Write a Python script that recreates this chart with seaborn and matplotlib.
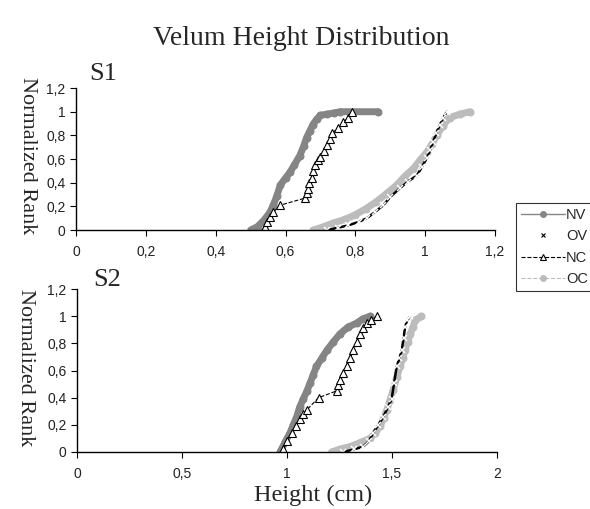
import matplotlib
matplotlib.use("Agg")
import matplotlib.pyplot as plt
import seaborn as sns
from matplotlib.lines import Line2D

# --- data (height in cm, normalized rank) ---
s1_nv_x = [0.50, 0.52, 0.54, 0.555, 0.565, 0.575, 0.585, 0.60, 0.613, 0.625, 0.641,
           0.652, 0.66, 0.67, 0.678, 0.69, 0.70, 0.72, 0.74, 0.756, 0.865]
s1_nv_y = [0.0, 0.03, 0.09, 0.15, 0.21, 0.29, 0.38, 0.44, 0.49, 0.55, 0.63,
           0.71, 0.78, 0.84, 0.89, 0.94, 0.97, 0.98, 0.99, 1.0, 1.0]
s1_nc_x = [0.54, 0.548, 0.556, 0.565, 0.584, 0.656, 0.66, 0.664, 0.668, 0.675, 0.68,
           0.685, 0.692, 0.699, 0.71, 0.72, 0.727, 0.733, 0.75, 0.765, 0.78, 0.79]
s1_nc_y = [0.03, 0.07, 0.11, 0.15, 0.21, 0.27, 0.31, 0.35, 0.40, 0.44, 0.50,
           0.55, 0.59, 0.62, 0.67, 0.72, 0.77, 0.82, 0.86, 0.91, 0.95, 1.0]
s1_ov_x = [0.72, 0.75, 0.78, 0.81, 0.833, 0.855, 0.88, 0.90, 0.928, 0.95, 0.976,
           0.99, 1.005, 1.015, 1.022, 1.032, 1.042, 1.052, 1.062]
s1_ov_y = [0.0, 0.02, 0.04, 0.07, 0.10, 0.15, 0.21, 0.28, 0.355, 0.41, 0.46,
           0.53, 0.61, 0.68, 0.74, 0.82, 0.89, 0.95, 1.0]
s1_oc_x = [0.68, 0.71, 0.737, 0.77, 0.80, 0.83, 0.86, 0.89, 0.918, 0.94, 0.966,
           0.985, 1.005, 1.02, 1.033, 1.05, 1.07, 1.10, 1.128]
s1_oc_y = [0.0, 0.03, 0.06, 0.09, 0.13, 0.18, 0.24, 0.31, 0.38, 0.45, 0.52,
           0.59, 0.66, 0.73, 0.80, 0.88, 0.95, 0.98, 1.0]

s2_nv_x = [0.967, 0.99, 1.014, 1.03, 1.046, 1.06, 1.077, 1.095, 1.11, 1.125, 1.14,
           1.165, 1.19, 1.22, 1.252, 1.29, 1.332, 1.36, 1.395]
s2_nv_y = [0.0, 0.07, 0.14, 0.20, 0.26, 0.33, 0.39, 0.45, 0.51, 0.57, 0.63,
           0.69, 0.75, 0.81, 0.87, 0.92, 0.95, 0.98, 1.0]
s2_nc_x = [0.983, 1.0, 1.022, 1.042, 1.062, 1.078, 1.094, 1.15, 1.236, 1.244, 1.252,
           1.268, 1.284, 1.30, 1.316, 1.332, 1.348, 1.364, 1.38, 1.40, 1.427]
s2_nc_y = [0.02, 0.08, 0.14, 0.19, 0.24, 0.28, 0.31, 0.40, 0.45, 0.49, 0.53,
           0.58, 0.63, 0.69, 0.75, 0.81, 0.87, 0.91, 0.95, 0.97, 1.0]
s2_ov_x = [1.268, 1.32, 1.363, 1.39, 1.41, 1.435, 1.459, 1.48, 1.498, 1.51, 1.522,
           1.535, 1.546, 1.555, 1.562, 1.572, 1.586]
s2_ov_y = [0.0, 0.02, 0.04, 0.08, 0.14, 0.20, 0.26, 0.33, 0.39, 0.51, 0.63,
           0.69, 0.75, 0.84, 0.92, 0.97, 1.0]
s2_oc_x = [1.212, 1.25, 1.30, 1.35, 1.395, 1.42, 1.443, 1.46, 1.475, 1.49, 1.506,
           1.522, 1.538, 1.55, 1.562, 1.574, 1.586, 1.60, 1.61, 1.64]
s2_oc_y = [0.0, 0.02, 0.04, 0.07, 0.10, 0.14, 0.19, 0.25, 0.31, 0.38, 0.46,
           0.55, 0.63, 0.69, 0.75, 0.81, 0.87, 0.92, 0.97, 1.0]

y_ticks = [0, 0.2, 0.4, 0.6, 0.8, 1.0, 1.2]
y_labels = ["0", "0,2", "0,4", "0,6", "0,8", "1", "1,2"]
x1_ticks = [0, 0.2, 0.4, 0.6, 0.8, 1.0, 1.2]
x1_labels = ["0", "0,2", "0,4", "0,6", "0,8", "1", "1,2"]
x2_ticks = [0, 0.5, 1.0, 1.5, 2.0]
x2_labels = ["0", "0,5", "1", "1,5", "2"]

NV_COL = "#858585"
OC_COL = "#bcbcbc"

sns.set_style("white")
plt.rcParams["font.family"] = ["Liberation Sans", "DejaVu Sans"]
SERIF = ["Liberation Serif", "DejaVu Serif"]

fig = plt.figure(figsize=(5.9, 5.09), dpi=100)
ax1 = fig.add_axes([0.129, 0.548, 0.710, 0.279])
ax2 = fig.add_axes([0.1305, 0.112, 0.712, 0.320])


def draw(ax, nv, ov, nc, oc):
    # NV: dense dark gray dots -> thick band + markers
    sns.lineplot(x=nv[0], y=nv[1], ax=ax, sort=False, estimator=None,
                 color=NV_COL, lw=5, solid_capstyle="round", legend=False)
    sns.lineplot(x=nv[0], y=nv[1], ax=ax, sort=False, estimator=None,
                 color=NV_COL, lw=1, marker="o", ms=5, mec=NV_COL, legend=False)
    # OC: dense light gray dots
    sns.lineplot(x=oc[0], y=oc[1], ax=ax, sort=False, estimator=None,
                 color=OC_COL, lw=5, solid_capstyle="round", legend=False)
    sns.lineplot(x=oc[0], y=oc[1], ax=ax, sort=False, estimator=None,
                 color=OC_COL, lw=1, marker="o", ms=5, mec=OC_COL, legend=False)
    # OV: black crosses
    sns.lineplot(x=ov[0], y=ov[1], ax=ax, sort=False, estimator=None,
                 color="black", lw=1.8, marker="x", ms=4, mew=1.1, legend=False)
    # NC: open triangles, dashed
    sns.lineplot(x=nc[0], y=nc[1], ax=ax, sort=False, estimator=None,
                 color="black", lw=0.8, ls="--", marker="^", ms=5.5,
                 mfc="white", mec="black", mew=0.8, legend=False)


draw(ax1, (s1_nv_x, s1_nv_y), (s1_ov_x, s1_ov_y), (s1_nc_x, s1_nc_y), (s1_oc_x, s1_oc_y))
draw(ax2, (s2_nv_x, s2_nv_y), (s2_ov_x, s2_ov_y), (s2_nc_x, s2_nc_y), (s2_oc_x, s2_oc_y))

for ax, xt, xl, xmax in [(ax1, x1_ticks, x1_labels, 1.2), (ax2, x2_ticks, x2_labels, 2.0)]:
    ax.set_xlim(0, xmax)
    ax.set_ylim(0, 1.2)
    ax.set_xticks(xt)
    ax.set_xticklabels(xl)
    ax.set_yticks(y_ticks)
    ax.set_yticklabels(y_labels)
    ax.set_xlabel("")
    ax.set_ylabel("")
    for s in ["top", "right"]:
        ax.spines[s].set_visible(False)
    for s in ["left", "bottom"]:
        ax.spines[s].set_color("black")
        ax.spines[s].set_linewidth(1.0)
    ax.tick_params(axis="both", direction="out", length=4.5, width=0.8,
                   color="black", labelsize=10, labelcolor="#222222", left=True, bottom=True)
    ax.tick_params(axis="x", pad=6)
    ax.tick_params(axis="y", pad=3)
    ax.grid(False)

fig.text(0.51, 0.925, "Velum Height Distribution", family=SERIF, fontsize=20,
         ha="center", va="center")
fig.text(0.175, 0.855, "S1", family=SERIF, fontsize=19, ha="center", va="center")
fig.text(0.181, 0.45, "S2", family=SERIF, fontsize=19, ha="center", va="center")
fig.text(0.046, 0.694, "Normalized Rank", family=SERIF, fontsize=16,
         rotation=-90, ha="center", va="center")
fig.text(0.044, 0.277, "Normalized Rank", family=SERIF, fontsize=16,
         rotation=-90, ha="center", va="center")
fig.text(0.53, 0.027, "Height (cm)", family=SERIF, fontsize=17.5,
         ha="center", va="center")

handles = [
    Line2D([], [], color=NV_COL, lw=1, marker="o", ms=4, label="NV"),
    Line2D([], [], color="black", lw=0, marker="x", ms=3.5, mew=0.8, label="OV"),
    Line2D([], [], color="black", lw=0.8, ls="--", marker="^", ms=5,
           mfc="white", mec="black", mew=0.8, label="NC"),
    Line2D([], [], color=OC_COL, lw=0.8, ls="--", marker="o", ms=4, label="OC"),
]
leg = fig.legend(handles=handles, loc="upper left", bbox_to_anchor=(0.875, 0.601),
                 frameon=True, fancybox=False, fontsize=10.5, handlelength=3.0,
                 handletextpad=0.05, borderpad=0.35, labelspacing=0.5,
                 borderaxespad=0)
leg.get_frame().set_edgecolor("black")
leg.get_frame().set_linewidth(0.8)

fig.savefig("out.png", dpi=100)
